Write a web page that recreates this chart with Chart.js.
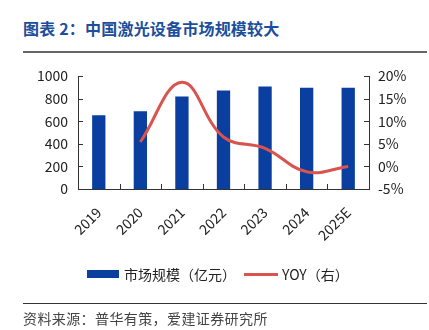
<!DOCTYPE html>
<html>
<head>
<meta charset="utf-8">
<script src="https://cdn.jsdelivr.net/npm/chart.js@4"></script>
<style>
  body { margin: 0; width: 429px; height: 330px; background: #fff; position: relative; overflow: hidden;
         font-family: "Noto Sans CJK SC", "Noto Sans", sans-serif; }
  #titulo { position: absolute; left: 23px; top: 16px; font-size: 16px; font-weight: bold; color: #1c4e9c; white-space: nowrap; letter-spacing: 0.2px; }
  #linea1 { position: absolute; left: 23px; top: 51px; width: 404px; height: 2px; background: #666; }
  #grafico { position: absolute; left: 0; top: 0; }
  #leyenda { position: absolute; left: 87px; top: 264px; font-size: 14px; color: #222; white-space: nowrap; display: flex; align-items: center; }
  .caja { display: inline-block; width: 32px; height: 8px; background: #0a3f9f; margin-right: 5px; }
  .raya { display: inline-block; width: 34px; height: 3px; background: #d9534f; margin: 0 4px 0 8px; }
  #linea2 { position: absolute; left: 23px; top: 303px; width: 404px; height: 1px; background: #333; }
  #fuente { position: absolute; left: 23px; top: 308px; font-size: 14px; color: #444; white-space: nowrap; letter-spacing: 0.4px; }
</style>
</head>
<body>
<div id="titulo">图表 2：中国激光设备市场规模较大</div>
<div id="linea1"></div>
<canvas id="grafico" width="429" height="330"></canvas>
<div id="leyenda"><span class="caja"></span>市场规模（亿元）<span class="raya"></span>YOY（右）</div>
<div id="linea2"></div>
<div id="fuente">资料来源：普华有策，爱建证券研究所</div>
<script>
const años = ['2019', '2020', '2021', '2022', '2023', '2024', '2025E']
const mercado = [652, 687, 818, 871, 906, 895, 895]
const yoy = [null, 5.4, 18.6, 6.5, 4.0, -1.2, 0.0]
const ticksIzq = [0, 200, 400, 600, 800, 1000]
const ticksDer = [-5, 0, 5, 10, 15, 20]

const azul = '#0a3f9f'
const rojo = '#d9534f'
const fuenteEjes = { family: '"Noto Sans CJK SC", "Noto Sans", sans-serif', size: 14 }

// marcas cortas hacia dentro del área, como en el original
const marcasInternas = {
    id: 'marcasInternas',
    afterDraw(chart) {
        const { ctx, chartArea } = chart
        const x = chart.scales.x
        const y = chart.scales.y
        const y1 = chart.scales.y1
        const largo = 5
        ctx.save()
        ctx.strokeStyle = '#333'
        ctx.lineWidth = 1
        ctx.beginPath()
        y.ticks.forEach((t, i) => {
            const py = Math.round(y.getPixelForTick(i)) + 0.5
            ctx.moveTo(chartArea.left, py)
            ctx.lineTo(chartArea.left + largo, py)
        })
        y1.ticks.forEach((t, i) => {
            const py = Math.round(y1.getPixelForTick(i)) + 0.5
            ctx.moveTo(chartArea.right, py)
            ctx.lineTo(chartArea.right - largo, py)
        })
        for (let i = 0; i < años.length - 1; i++) {
            const px = Math.round((x.getPixelForTick(i) + x.getPixelForTick(i + 1)) / 2) + 0.5
            ctx.moveTo(px, chartArea.bottom)
            ctx.lineTo(px, chartArea.bottom - largo)
        }
        ctx.stroke()
        ctx.restore()
    }
}

const datasets = [
    {
        type: 'line',
        label: 'YOY（右）',
        data: yoy,
        yAxisID: 'y1',
        borderColor: rojo,
        borderWidth: 3,
        pointRadius: 0,
        tension: 0.4,
        spanGaps: false,
        order: 0
    },
    {
        type: 'bar',
        label: '市场规模（亿元）',
        data: mercado,
        yAxisID: 'y',
        backgroundColor: azul,
        barPercentage: 0.32,
        categoryPercentage: 1,
        order: 1
    }
]

const config = {
    data: { labels: años, datasets },
    options: {
        responsive: false,
        animation: false,
        layout: { padding: { top: 76, left: 0, right: 0, bottom: 0 } },
        plugins: { legend: { display: false }, tooltip: { enabled: false } },
        scales: {
            x: {
                grid: { display: false, drawTicks: false },
                border: { display: true, color: '#333', width: 1 },
                ticks: { color: '#222', font: fuenteEjes, minRotation: 45, maxRotation: 45, padding: 15 },
                afterFit: (s) => { s.height = 141 }
            },
            y: {
                position: 'left',
                min: 0, max: 1000,
                grid: { display: false, drawTicks: false },
                border: { display: true, color: '#333', width: 1 },
                afterBuildTicks: (s) => { s.ticks = ticksIzq.map((v) => ({ value: v })) },
                ticks: { color: '#222', font: fuenteEjes, padding: 10, callback: (v) => String(v) },
                afterFit: (s) => { s.width = 78 }
            },
            y1: {
                position: 'right',
                min: -5, max: 20,
                grid: { display: false, drawTicks: false },
                border: { display: true, color: '#333', width: 1 },
                afterBuildTicks: (s) => { s.ticks = ticksDer.map((v) => ({ value: v })) },
                ticks: { color: '#222', font: fuenteEjes, padding: 9, callback: (v) => v + '%' },
                afterFit: (s) => { s.width = 60 }
            }
        }
    },
    plugins: [marcasInternas]
}

const myChart = new Chart(document.getElementById('grafico'), config)
</script>
</body>
</html>
